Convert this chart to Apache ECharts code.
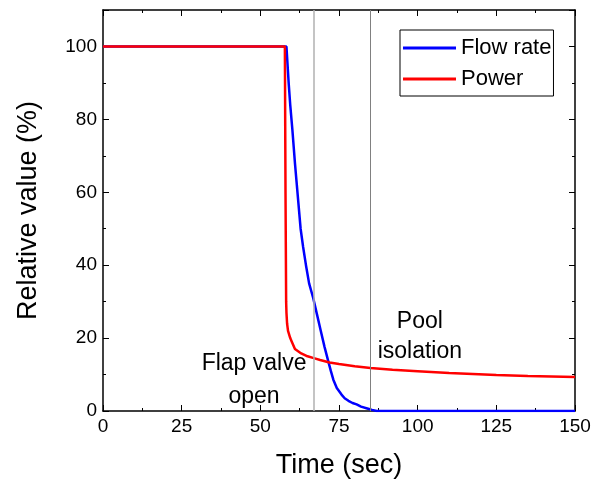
<!DOCTYPE html>
<html>
<head>
<meta charset="utf-8">
<script src="https://cdn.jsdelivr.net/npm/echarts@6/dist/echarts.min.js"></script>
<style>
  html, body { margin: 0; padding: 0; background: #fff; }
  #chart { width: 600px; height: 487px; }
</style>
</head>
<body>
<div id="chart"></div>
<script>
// [time (sec), relative value (%)]
const flowRate = [
  [0, 100], [58.3, 100], [59, 90], [59.5, 84], [60.2, 77], [61, 68],
  [61.5, 63], [62.8, 50], [63.6, 45], [64.5, 40], [65.5, 35], [66.8, 31],
  [68, 26.5], [69.2, 22], [70.4, 17.6], [71.6, 13.6], [72.4, 11],
  [73.2, 8.6], [74.3, 6.3], [75.8, 4.5], [76.8, 3.5], [78, 2.8],
  [79.3, 2.2], [80.6, 1.8], [82, 1.2], [84, 0.7], [85.5, 0.3], [87, 0],
  [150, 0]
]
const power = [
  [0, 100], [57.8, 100], [58.0, 60], [58.1, 45], [58.2, 30], [58.3, 27],
  [58.5, 24], [58.8, 22], [59.5, 20], [60, 19], [61, 17], [62, 16.4],
  [63, 15.8], [65, 15], [67, 14.5], [69, 14], [72, 13.3], [75, 12.9],
  [80, 12.3], [85, 11.8], [92, 11.3], [100, 10.9], [110, 10.4],
  [125, 9.9], [135, 9.6], [150, 9.3]
]
const eventTimes = [67, 85]
const notes = [
  { text: 'Flap valve', x: 48, y: 13 },
  { text: 'open', x: 48, y: 3.8 },
  { text: 'Pool', x: 100.7, y: 24.5 },
  { text: 'isolation', x: 100.7, y: 16.3 }
]

const font = 'Liberation Sans, Arial, sans-serif'
const chart = echarts.init(document.getElementById('chart'))

// fresh objects for every axis
function frame(extra) {
  return Object.assign({
    type: 'value',
    axisLine: { show: true, onZero: false, lineStyle: { color: '#000', width: 1.5 } },
    axisTick: { show: true, inside: true, length: 6, lineStyle: { color: '#000', width: 1 } },
    minorTick: { show: true, splitNumber: 2, length: 3, lineStyle: { color: '#000', width: 1 } },
    splitLine: { show: false }
  }, extra)
}
const tickFont = { fontFamily: font, fontSize: 19, color: '#000' }
const nameFont = { fontFamily: font, fontSize: 27, color: '#000' }

chart.setOption({
  animation: false,
  backgroundColor: '#fff',
  grid: { left: 103, right: 25, top: 10, bottom: 76 },
  legend: {
    orient: 'vertical',
    left: 400,
    top: 30,
    borderColor: '#000',
    borderWidth: 1,
    padding: [7, 2, 6, 3],
    icon: 'rect',
    itemWidth: 53,
    itemHeight: 3,
    itemGap: 9,
    textStyle: { fontFamily: font, fontSize: 22, color: '#000' },
    data: ['Flow rate', 'Power']
  },
  xAxis: [
    frame({
      min: 0, max: 150, interval: 25, position: 'bottom',
      name: 'Time (sec)', nameLocation: 'middle', nameGap: 41, nameTextStyle: nameFont,
      axisLabel: Object.assign({ margin: 6 }, tickFont)
    }),
    frame({ min: 0, max: 150, interval: 25, position: 'top', axisLabel: { show: false } })
  ],
  yAxis: [
    frame({
      min: 0, max: 110, interval: 20, position: 'left',
      name: 'Relative value (%)', nameLocation: 'middle', nameGap: 61, nameTextStyle: nameFont,
      axisLabel: Object.assign({ margin: 6, showMaxLabel: false }, tickFont)
    }),
    frame({ min: 0, max: 110, interval: 20, position: 'right', axisLabel: { show: false } })
  ],
  series: [{
    name: 'Flow rate',
    type: 'line',
    data: flowRate,
    showSymbol: false,
    symbol: 'none',
    lineStyle: { color: '#0000ff', width: 2.5 },
    itemStyle: { color: '#0000ff' },
    markLine: {
      silent: true,
      symbol: 'none',
      label: { show: false },
      data: [
        { xAxis: eventTimes[0], lineStyle: { color: '#b0b0b0', width: 1.5, type: 'solid' } },
        { xAxis: eventTimes[1], lineStyle: { color: '#808080', width: 1, type: 'solid' } }
      ]
    },
    z: 2
  }, {
    name: 'Power',
    type: 'line',
    data: power,
    showSymbol: false,
    symbol: 'none',
    lineStyle: { color: '#ff0000', width: 2.5 },
    itemStyle: { color: '#ff0000' },
    z: 3
  }, {
    name: 'notes',
    type: 'scatter',
    symbolSize: 0,
    silent: true,
    itemStyle: { opacity: 1 },
    data: notes.map(n => ({ value: [n.x, n.y], name: n.text })),
    label: {
      show: true,
      position: 'inside',
      formatter: p => p.name,
      fontFamily: font,
      fontSize: 23,
      color: '#000'
    },
    z: 4
  }]
})
</script>
</body>
</html>
